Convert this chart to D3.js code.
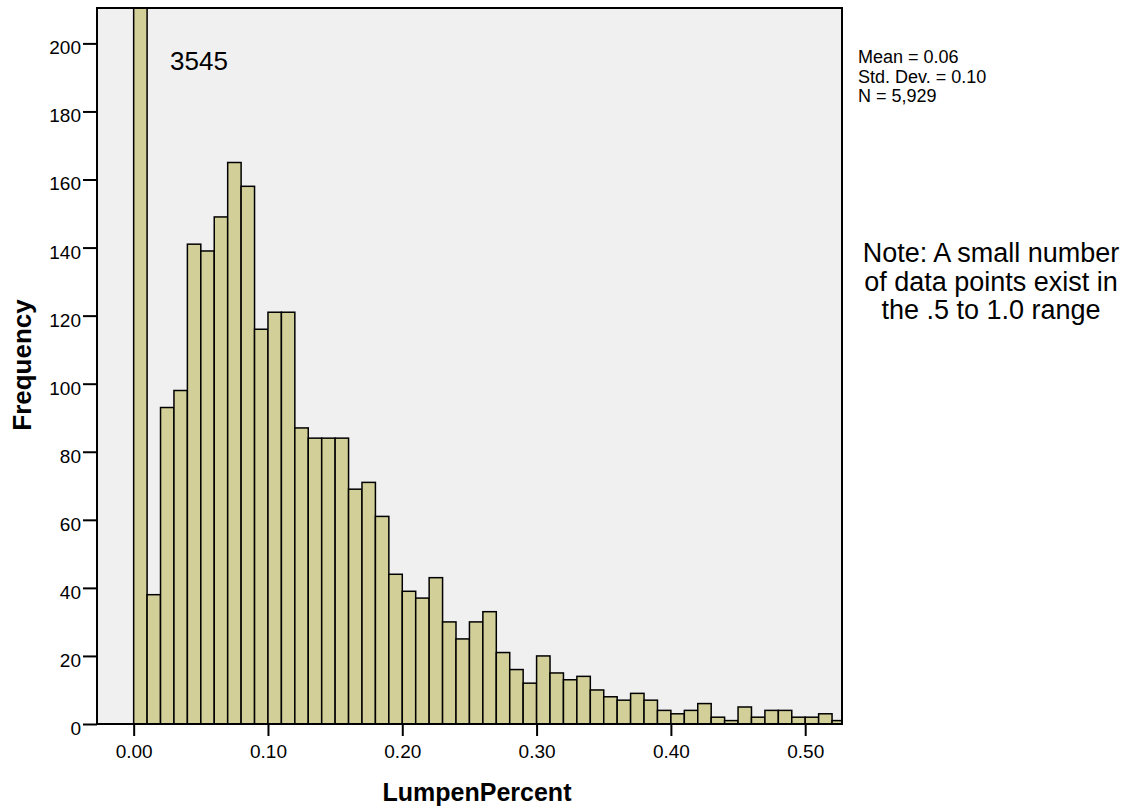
<!DOCTYPE html>
<html>
<head>
<meta charset="utf-8">
<script src="https://cdn.jsdelivr.net/npm/d3@7"></script>
<style>
  body { margin: 0; background: #fff; }
  svg { display: block; font-family: "Liberation Sans", Arial, sans-serif; }
</style>
</head>
<body>
<div id="canvas"></div>
<script>
// histogram bins (lower edge, width 0.01) and their counts
var binStart = [0.00, 0.01, 0.02, 0.03, 0.04, 0.05, 0.06, 0.07, 0.08, 0.09,
                0.10, 0.11, 0.12, 0.13, 0.14, 0.15, 0.16, 0.17, 0.18, 0.19,
                0.20, 0.21, 0.22, 0.23, 0.24, 0.25, 0.26, 0.27, 0.28, 0.29,
                0.30, 0.31, 0.32, 0.33, 0.34, 0.35, 0.36, 0.37, 0.38, 0.39,
                0.40, 0.41, 0.42, 0.43, 0.44, 0.45, 0.46, 0.47, 0.48, 0.49,
                0.50, 0.51, 0.52];
var counts = [3545, 38, 93, 98, 141, 139, 149, 165, 158, 116,
              121, 121, 87, 84, 84, 84, 69, 71, 61, 44,
              39, 37, 43, 30, 25, 30, 33, 21, 16, 12,
              20, 15, 13, 14, 10, 8, 7, 9, 7, 4,
              3, 4, 6, 2, 1, 5, 2, 4, 4, 2,
              2, 3, 1];
var binWidth = 0.01;
var xTicks = [0.0, 0.1, 0.2, 0.3, 0.4, 0.5];
var yTicks = [0, 20, 40, 60, 80, 100, 120, 140, 160, 180, 200];
var statLines = ["Mean = 0.06", "Std. Dev. = 0.10", "N = 5,929"];
var noteLines = ["Note: A small number", "of data points exist in", "the .5 to 1.0 range"];
var bigLabel = "3545";

var W = 1126, H = 809;
var plotL = 97, plotR = 842, plotT = 8, plotB = 724;

var svg = d3.select("#canvas").append("svg")
    .attr("width", W)
    .attr("height", H);

var x = d3.scaleLinear().domain([-0.0273, 0.5274]).range([plotL, plotR]);
var y = d3.scaleLinear().domain([0, 210.4]).range([plotB, plotT]);

svg.append("defs").append("clipPath")
    .attr("id", "plotClip")
    .append("rect")
    .attr("x", plotL).attr("y", plotT)
    .attr("width", plotR - plotL).attr("height", plotB - plotT);

// plot background
svg.append("rect")
    .attr("x", plotL).attr("y", plotT)
    .attr("width", plotR - plotL).attr("height", plotB - plotT)
    .attr("fill", "#f0f0f0");

var data = binStart.map(function (b, i) { return { x0: b, n: counts[i] }; });

svg.append("g")
    .attr("clip-path", "url(#plotClip)")
    .selectAll("rect")
    .data(data)
    .join("rect")
    .attr("x", function (d) { return x(d.x0); })
    .attr("width", function (d) { return x(d.x0 + binWidth) - x(d.x0); })
    .attr("y", function (d) { return y(d.n); })
    .attr("height", function (d) { return y(0) - y(d.n); })
    .attr("fill", "#d3cf98")
    .attr("stroke", "#000")
    .attr("stroke-width", 1.5);

// frame
svg.append("rect")
    .attr("x", plotL).attr("y", plotT)
    .attr("width", plotR - plotL).attr("height", plotB - plotT)
    .attr("fill", "none")
    .attr("stroke", "#000")
    .attr("stroke-width", 2);

// axes
var xAxis = svg.append("g")
    .attr("transform", "translate(0," + plotB + ")")
    .call(d3.axisBottom(x).tickValues(xTicks).tickSize(12).tickPadding(9)
        .tickFormat(d3.format(".2f")));
xAxis.select(".domain").remove();
xAxis.selectAll("line").attr("stroke-width", 2);
xAxis.selectAll("text")
    .attr("font-size", 19)
    .attr("font-family", "Liberation Sans, Arial, sans-serif")
    .attr("fill", "#000");

var yAxis = svg.append("g")
    .attr("transform", "translate(" + plotL + ",0)")
    .call(d3.axisLeft(y).tickValues(yTicks).tickSize(14).tickPadding(2));
yAxis.select(".domain").remove();
yAxis.selectAll("line").attr("stroke-width", 2);
yAxis.selectAll("text")
    .attr("font-size", 19)
    .attr("dy", "0.55em")
    .attr("font-family", "Liberation Sans, Arial, sans-serif")
    .attr("fill", "#000");

// axis titles
svg.append("text")
    .attr("x", 477).attr("y", 801)
    .attr("text-anchor", "middle")
    .attr("font-size", 25)
    .attr("font-weight", "bold")
    .text("LumpenPercent");

svg.append("text")
    .attr("transform", "translate(31,365) rotate(-90)")
    .attr("text-anchor", "middle")
    .attr("font-size", 26)
    .attr("font-weight", "bold")
    .text("Frequency");

// label for the clipped first bar
svg.append("text")
    .attr("x", 170).attr("y", 70)
    .attr("font-size", 26)
    .text(bigLabel);

// statistics
svg.append("g").selectAll("text")
    .data(statLines)
    .join("text")
    .attr("x", 858)
    .attr("y", function (d, i) { return 63 + i * 19.5; })
    .attr("font-size", 18)
    .text(function (d) { return d; });

// note
svg.append("g").selectAll("text")
    .data(noteLines)
    .join("text")
    .attr("x", 991)
    .attr("y", function (d, i) { return 262 + i * 28.5; })
    .attr("text-anchor", "middle")
    .attr("font-size", 27)
    .text(function (d) { return d; });
</script>
</body>
</html>
